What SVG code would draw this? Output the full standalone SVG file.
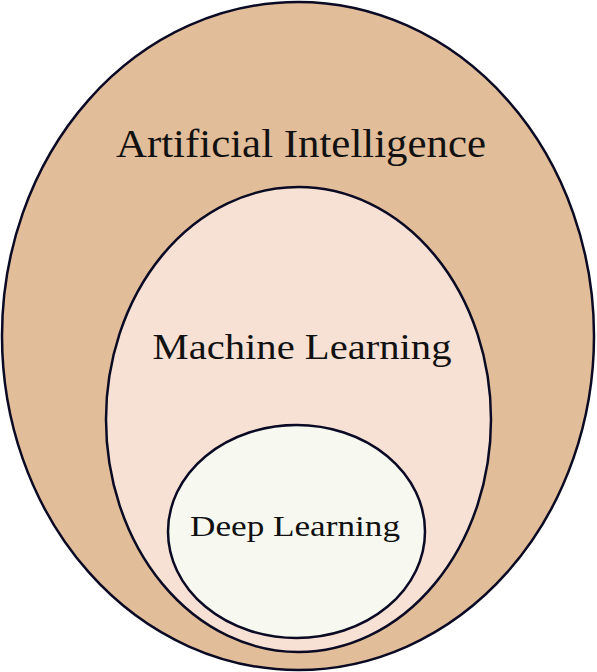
<svg xmlns="http://www.w3.org/2000/svg" width="597" height="672" viewBox="0 0 597 672">
<style>
.e{stroke:#0b0a24;stroke-width:2.5}
.t{font-family:"Liberation Serif",serif;fill:#111;text-anchor:middle}
</style>
<rect width="597" height="672" fill="#fff"/>
<g id="ai"><ellipse class="e" cx="298" cy="336" rx="296" ry="334" fill="#e2bd99"/>
<text class="t" x="301" y="157" font-size="40" textLength="370" lengthAdjust="spacingAndGlyphs">Artificial Intelligence</text></g>
<g id="ml"><ellipse class="e" cx="298.5" cy="419.5" rx="192.5" ry="232.5" fill="#f7e1d5"/>
<text class="t" x="302" y="359" font-size="36" textLength="299" lengthAdjust="spacingAndGlyphs">Machine Learning</text></g>
<g id="dl"><ellipse class="e" cx="296.5" cy="531.5" rx="128.5" ry="106.5" fill="#f7f9f0"/>
<text class="t" x="295" y="536" font-size="30" textLength="210" lengthAdjust="spacingAndGlyphs">Deep Learning</text></g>
<g id="connectors"/>
</svg>
